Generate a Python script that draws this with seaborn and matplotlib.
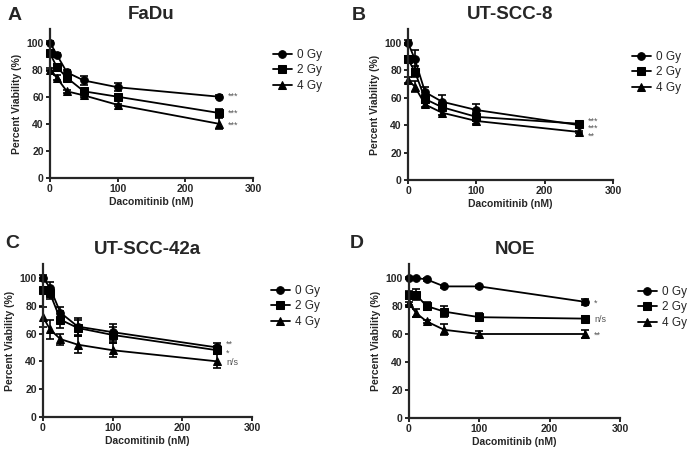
import pandas as pd
import matplotlib
matplotlib.use('Agg')
import matplotlib.pyplot as plt
import seaborn as sns

# doses and groups
doses = [0, 10, 25, 50, 100, 250]
groups = ['0 Gy', '2 Gy', '4 Gy']

# mean viability per panel and group
fadu_mean = [[100, 91, 78, 72, 67, 60],
             [92, 82, 74, 64, 60, 48],
             [80, 74, 64, 61, 54, 40]]
fadu_err = [[1, 1, 2, 3, 3, 1],
            [2, 2, 2, 2, 2, 3],
            [1, 2, 1, 1, 1, 4]]

utscc8_mean = [[100, 88, 64, 57, 51, 40],
               [88, 79, 59, 53, 46, 41],
               [73, 68, 55, 49, 43, 35]]
utscc8_err = [[2, 7, 4, 5, 4, 1],
              [2, 4, 3, 3, 3, 2],
              [2, 4, 2, 2, 2, 1]]

utscc42_mean = [[100, 93, 75, 65, 61, 50],
                [91, 89, 70, 64, 59, 48],
                [72, 63, 56, 52, 48, 40]]
utscc42_err = [[2, 4, 4, 6, 6, 3],
               [2, 4, 6, 6, 6, 3],
               [7, 7, 4, 6, 5, 5]]

noe_mean = [[100, 100, 99, 94, 94, 83],
            [88, 88, 80, 76, 72, 71],
            [82, 75, 69, 63, 60, 60]]
noe_err = [[1, 1, 1, 1, 1, 2],
           [3, 4, 3, 4, 3, 2],
           [1, 3, 1, 4, 2, 3]]

titles = ['FaDu', 'UT-SCC-8', 'UT-SCC-42a', 'NOE']
letters = ['A', 'B', 'C', 'D']
sig_labels = [['***', '***', '***'], ['***', '***', '**'],
              ['**', '*', 'n/s'], ['*', 'n/s', '**']]
sig_y = [[60, 48, 39], [43, 37.5, 32], [52, 46, 39], [82, 70, 59]]

means = [fadu_mean, utscc8_mean, utscc42_mean, noe_mean]
errs = [fadu_err, utscc8_err, utscc42_err, noe_err]

sns.set_style('ticks')
plt.rcParams['font.family'] = ['Liberation Sans', 'DejaVu Sans']

W, H = 687, 455
fig = plt.figure(figsize=(W / 100, H / 100), dpi=100)

# axes boxes in pixels: left, right, top, bottom
boxes = [(50, 253, 29, 178), (408, 613, 29, 180),
         (43, 252, 264, 417), (409, 620, 264, 418)]
letter_pos = [(8, 15), (352, 15), (5, 243), (350, 243)]
legend_pos = [(268, 44), (627, 46), (266, 280), (633, 281)]

markers = {'0 Gy': 'o', '2 Gy': 's', '4 Gy': '^'}

for i in range(4):
    l, r, t, b = boxes[i]
    ax = fig.add_axes([l / W, 1 - b / H, (r - l) / W, (b - t) / H])
    rows = []
    for g, grp in enumerate(groups):
        for d, dose in enumerate(doses):
            rows.append({'Dose': dose, 'Group': grp,
                         'Viability': means[i][g][d], 'Err': errs[i][g][d]})
    df = pd.DataFrame(rows)
    sns.lineplot(data=df, x='Dose', y='Viability', hue='Group', style='Group',
                 markers=markers, dashes=False,
                 palette=['black'] * 3, markersize=5.5, linewidth=1.3,
                 markeredgecolor='black', ax=ax, legend=True, clip_on=False)
    for grp in groups:
        sub = df[df['Group'] == grp]
        eb = ax.errorbar(sub['Dose'], sub['Viability'], yerr=sub['Err'], fmt='none',
                         ecolor='black', elinewidth=1.2, capsize=3, capthick=1.2)
        for art in eb.lines[1] + eb.lines[2]:
            art.set_clip_on(False)
    ax.set_xlim(0, 300)
    ax.set_ylim(0, 110)
    ax.set_xticks([0, 100, 200, 300])
    ax.set_yticks([0, 20, 40, 60, 80, 100])
    for s in ['top', 'right']:
        ax.spines[s].set_visible(False)
    for s in ['left', 'bottom']:
        ax.spines[s].set_linewidth(1.6)
    ax.tick_params(width=1.4, length=3, labelsize=7.5, pad=1.5)
    for lab in ax.get_xticklabels() + ax.get_yticklabels():
        lab.set_fontweight('bold')
    ax.set_xlabel('Dacomitinib (nM)', fontsize=7.5, fontweight='bold', labelpad=2)
    ax.set_ylabel('Percent Viability (%)', fontsize=7.5, fontweight='bold', labelpad=3)
    ax.set_title(titles[i], fontsize=13.5, fontweight='bold', pad=7)

    for g in range(3):
        ax.text(263, sig_y[i][g], sig_labels[i][g], fontsize=6.5, color='#555555',
                va='center', ha='left', clip_on=False)

    handles, labels = ax.get_legend_handles_labels()
    ax.legend(handles, labels, loc='upper left', frameon=False, fontsize=8.5,
              handlelength=1.6, handletextpad=0.45, labelspacing=0.3,
              bbox_to_anchor=(legend_pos[i][0] / W, 1 - legend_pos[i][1] / H),
              bbox_transform=fig.transFigure, borderaxespad=0)

    fig.text(letter_pos[i][0] / W, 1 - letter_pos[i][1] / H, letters[i],
             fontsize=14, fontweight='bold', va='center', ha='left')

fig.savefig('out.png', dpi=100)
